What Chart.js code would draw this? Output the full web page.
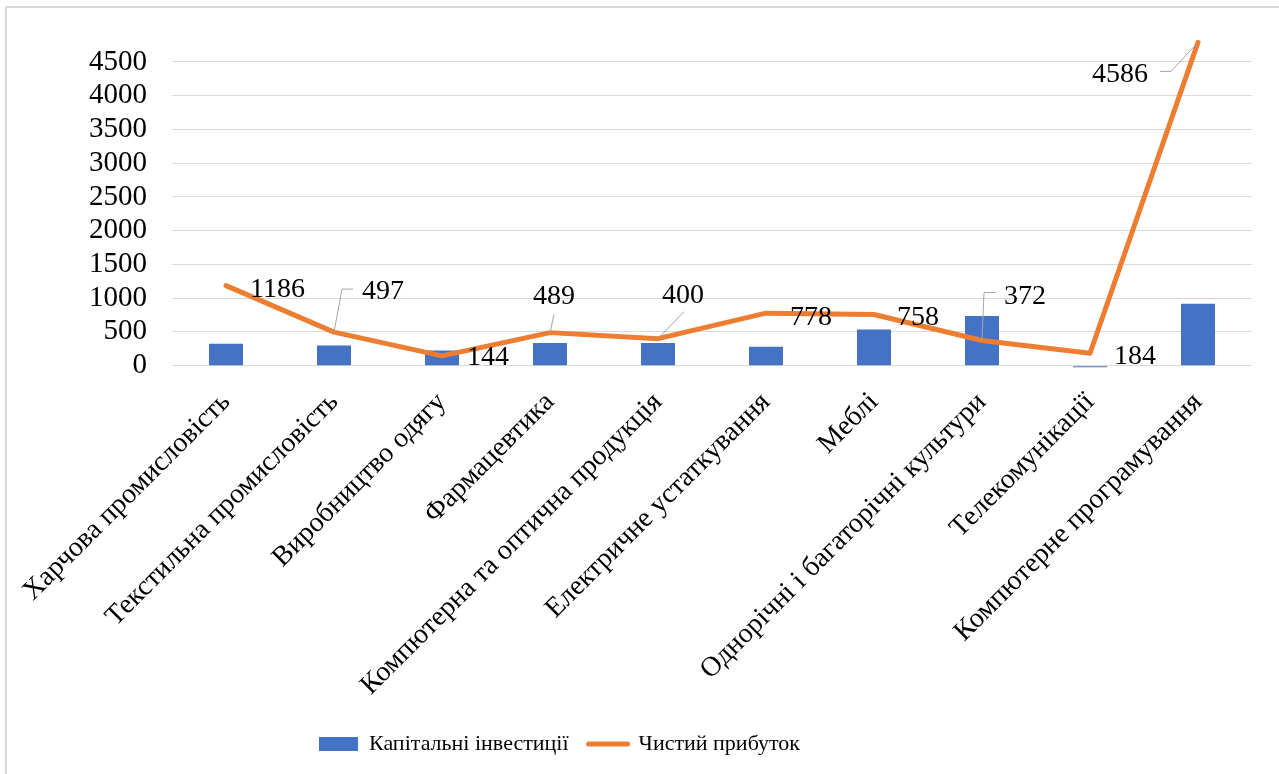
<!DOCTYPE html>
<html>
<head>
<meta charset="utf-8">
<script src="https://cdn.jsdelivr.net/npm/chart.js@4.4.0/dist/chart.umd.min.js"></script>
<style>
  html, body { margin: 0; padding: 0; background: #fff; }
  #frame { position: absolute; left: 5px; top: 6px; width: 1300px; height: 800px;
           border-left: 2px solid #d9d9d9; border-top: 2px solid #d9d9d9; }
  #wrap { position: absolute; left: 0; top: 0; width: 1279px; height: 774px; }
</style>
</head>
<body>
<div id="frame"></div>
<div id="wrap"><canvas id="chart"></canvas></div>
<script>
// categories and values
const categories = [
    'Харчова промисловість',
    'Текстильна промисловість',
    'Виробництво одягу',
    'Фармацевтика',
    'Компютерна та оптична продукція',
    'Електричне устаткування',
    'Меблі',
    'Однорічні і багаторічні культури',
    'Телекомунікації',
    'Компютерне програмування'
];
const investments = [326, 300, 226, 335, 335, 281, 537, 734, -25, 918];
const profit = [1186, 497, 144, 489, 400, 778, 758, 372, 184, 4790];
const profitLabels = ['1186', '497', '144', '489', '400', '778', '758', '372', '184', '4586'];
const yTicks = [0, 500, 1000, 1500, 2000, 2500, 3000, 3500, 4000, 4500];

// where each data label sits relative to its point (left x, baseline y) and leader lines
const labelPlacement = [
    { dx: 24, dy: 11 },
    { dx: 28, dy: -33, leader: [[0, 0], [8, -43], [19, -43]] },
    { dx: 25, dy: 9 },
    { dx: -17, dy: -29, leader: [[0, 0], [4, -18]] },
    { dx: 4, dy: -36, leader: [[0, 0], [26, -27]] },
    { dx: 24, dy: 12 },
    { dx: 23, dy: 11 },
    { dx: 22, dy: -37, leader: [[0, 0], [2, -48], [14, -48]] },
    { dx: 24, dy: 11 },
    { dx: -106, dy: 40, leader: [[0, 0], [-27, 29], [-38, 29]] }
];

const serif = "'Liberation Serif', 'Times New Roman', serif";

const lineLabels = {
    id: 'lineLabels',
    afterDatasetsDraw(chart) {
        const meta = chart.getDatasetMeta(1);
        const ctx = chart.ctx;
        ctx.save();
        meta.data.forEach((pt, i) => {
            const p = labelPlacement[i];
            if (p.leader) {
                ctx.beginPath();
                p.leader.forEach(([lx, ly], k) => {
                    if (k === 0) ctx.moveTo(pt.x + lx, pt.y + ly);
                    else ctx.lineTo(pt.x + lx, pt.y + ly);
                });
                ctx.strokeStyle = '#a6a6a6';
                ctx.lineWidth = 1;
                ctx.stroke();
            }
            ctx.font = '28px ' + serif;
            ctx.fillStyle = '#000';
            ctx.textAlign = 'left';
            ctx.textBaseline = 'alphabetic';
            ctx.fillText(profitLabels[i], pt.x + p.dx, pt.y + p.dy);
        });
        ctx.restore();
    }
};

// legend sits left of centre in the original
const legendShift = {
    id: 'legendShift',
    afterLayout(chart) {
        const lg = chart.legend;
        const w = lg.right - lg.left;
        lg.left = 299;
        lg.right = 299 + w;
    }
};

const chart = new Chart(document.getElementById('chart'), {
    data: {
        labels: categories,
        datasets: [{
            type: 'bar',
            label: 'Капітальні інвестиції',
            data: investments,
            backgroundColor: '#4472c4',
            barPercentage: 0.63,
            categoryPercentage: 0.5,
            order: 2
        }, {
            type: 'line',
            label: 'Чистий прибуток',
            data: profit,
            borderColor: '#ed7d31',
            backgroundColor: '#ed7d31',
            borderWidth: 5,
            pointRadius: 0,
            tension: 0,
            borderCapStyle: 'round',
            borderJoinStyle: 'round',
            clip: false,
            order: 1
        }]
    },
    options: {
        responsive: true,
        maintainAspectRatio: false,
        animation: false,
        layout: { padding: { left: 0, right: 27, top: 25, bottom: 9 } },
        scales: {
            x: {
                grid: { display: false },
                border: { display: false },
                afterFit: (scale) => { scale.height = 344; },
                ticks: {
                    autoSkip: false,
                    minRotation: 45,
                    maxRotation: 45,
                    padding: 9,
                    color: '#000',
                    font: { family: serif, size: 28 }
                }
            },
            y: {
                min: -50,
                max: 4790,
                afterBuildTicks: (scale) => { scale.ticks = yTicks.map(v => ({ value: v })); },
                afterFit: (scale) => { scale.width = 172; },
                grid: { color: '#d9d9d9', lineWidth: 1, drawTicks: false },
                border: { display: false },
                ticks: {
                    autoSkip: false,
                    padding: 25,
                    color: '#000',
                    font: { family: serif, size: 29 },
                    callback: (v) => String(v)
                }
            }
        },
        plugins: {
            tooltip: { enabled: false },
            legend: {
                position: 'bottom',
                align: 'start',
                labels: {
                    color: '#000',
                    font: { family: serif, size: 22 },
                    usePointStyle: true,
                    pointStyleWidth: 39,
                    boxHeight: 14,
                    padding: 20,
                    generateLabels: (ch) => ch.data.datasets.map((ds, i) => ({
                        text: ds.label,
                        datasetIndex: i,
                        fillStyle: ds.type === 'bar' ? '#4472c4' : '#ed7d31',
                        strokeStyle: ds.type === 'bar' ? '#4472c4' : '#ed7d31',
                        lineWidth: ds.type === 'bar' ? 0 : 5,
                        lineCap: 'round',
                        pointStyle: ds.type === 'bar' ? 'rect' : 'line',
                        fontColor: '#000',
                        hidden: false
                    }))
                }
            }
        }
    },
    plugins: [lineLabels, legendShift]
});
</script>
</body>
</html>
